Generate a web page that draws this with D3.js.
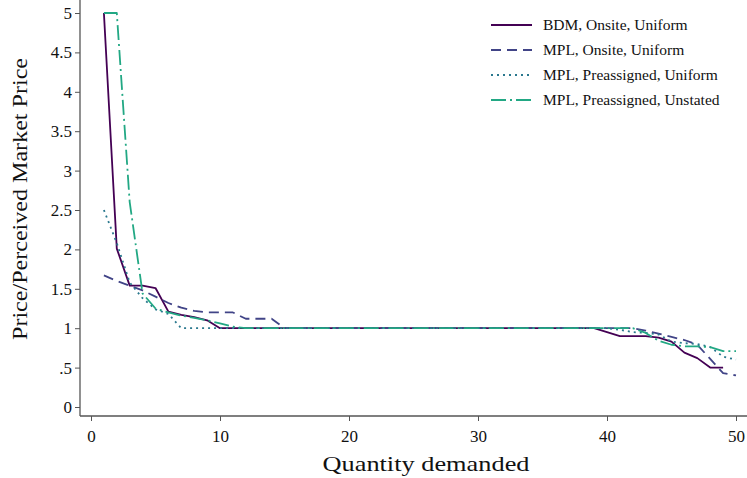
<!DOCTYPE html>
<html><head><meta charset="utf-8">
<script src="https://cdn.jsdelivr.net/npm/d3@7"></script>
<style>body{margin:0;background:#fff}svg{display:block}text{font-family:"Liberation Serif","Times New Roman",serif;fill:#111}</style>
</head><body><svg id="c" width="747" height="478"></svg>
<script>
const quantities = d3.range(1, 51);
const bdmOnsiteUniform = [5,2.01,1.54,1.54,1.51,1.21,1.17,1.14,1.10,1.0,
 1,1,1,1,1,1,1,1,1,1, 1,1,1,1,1,1,1,1,1,1, 1,1,1,1,1,1,1,1,1,
 0.95,0.90,0.90,0.90,0.88,0.83,0.69,0.62,0.50,0.50];
const mplOnsiteUniform = [1.67,1.60,1.54,1.48,1.40,1.32,1.26,1.22,1.20,1.20,
 1.20,1.12,1.12,1.12,1.0, 1,1,1,1,1, 1,1,1,1,1,1,1,1,1,1, 1,1,1,1,1,1,1,1,1,1,
 1.0,1.0,0.97,0.93,0.89,0.85,0.79,0.61,0.43,0.40];
const mplPreUniform = [2.5,2.08,1.58,1.38,1.24,1.18,1.0,1,1,1,
 1,1,1,1,1,1,1,1,1,1, 1,1,1,1,1,1,1,1,1,1, 1,1,1,1,1,1,1,1,1,1,
 0.98,0.95,0.94,0.92,0.83,0.81,0.80,0.76,0.64,0.60];
const mplPreUnstated = [5,5,2.6,1.44,1.25,1.20,1.16,1.13,1.10,1.06,
 1.02,1,1,1,1,1,1,1,1,1, 1,1,1,1,1,1,1,1,1,1, 1,1,1,1,1,1,1,1,1,1,
 1.0,1.0,0.94,0.84,0.79,0.77,0.77,0.76,0.71,0.71];
const seriesNames = ["BDM, Onsite, Uniform","MPL, Onsite, Uniform","MPL, Preassigned, Uniform","MPL, Preassigned, Unstated"];
const xTicks = [0,10,20,30,40,50];
const yTicks = [0,0.5,1,1.5,2,2.5,3,3.5,4,4.5,5];
const yTickLabels = ["0",".5","1","1.5","2","2.5","3","3.5","4","4.5","5"];

const colors = ["#440154","#414487","#2a788e","#22a884"];
const dashes = [null,"10,6","2,4","15,4,2,4"];
const allSeries = [bdmOnsiteUniform, mplOnsiteUniform, mplPreUniform, mplPreUnstated];

const svg = d3.select("#c");
const x = d3.scaleLinear().domain([0,50]).range([91,736]);
const y = d3.scaleLinear().domain([0,5]).range([407,13]);
const axisY = 416, axisX = 80;

svg.append("line").attr("x1",axisX).attr("x2",747).attr("y1",axisY).attr("y2",axisY).attr("stroke","#555").attr("stroke-width",1.3);
svg.append("line").attr("x1",axisX).attr("x2",axisX).attr("y1",0).attr("y2",axisY).attr("stroke","#555").attr("stroke-width",1.3);

const xa = svg.append("g").attr("transform",`translate(0,${axisY})`)
 .call(d3.axisBottom(x).tickValues(xTicks).tickSize(5).tickPadding(9).tickFormat(d3.format("d")));
xa.select(".domain").remove();
xa.selectAll("line").attr("stroke","#555");
xa.selectAll("text").attr("font-size",17).attr("fill","#111").style("font-family","Liberation Serif");

const ya = svg.append("g").attr("transform",`translate(${axisX},0)`)
 .call(d3.axisLeft(y).tickValues(yTicks).tickSize(5).tickPadding(3).tickFormat((d,i)=>yTickLabels[i]));
ya.select(".domain").remove();
ya.selectAll("line").attr("stroke","#555");
ya.selectAll("text").attr("font-size",17).attr("fill","#111").style("font-family","Liberation Serif");

svg.append("text").attr("x",426).attr("y",471).attr("text-anchor","middle").attr("font-size",22)
 .attr("textLength",207).attr("lengthAdjust","spacingAndGlyphs").text("Quantity demanded");
svg.append("text").attr("transform","translate(27,199) rotate(-90)").attr("text-anchor","middle").attr("font-size",22)
 .attr("textLength",282).attr("lengthAdjust","spacingAndGlyphs").text("Price/Perceived Market Price");

const line = d3.line().x((d,i)=>x(quantities[i])).y(d=>y(d));
allSeries.forEach((s,k)=>{
  svg.append("path").datum(s).attr("d",line).attr("fill","none")
   .attr("stroke",colors[k]).attr("stroke-width",1.8)
   .attr("stroke-dasharray",dashes[k]).attr("stroke-linejoin","round");
});

const lg = svg.append("g");
seriesNames.forEach((n,k)=>{
  const yy = 25 + k*25;
  lg.append("line").attr("x1",491).attr("x2",532).attr("y1",yy).attr("y2",yy)
   .attr("stroke",colors[k]).attr("stroke-width",1.8).attr("stroke-dasharray",dashes[k]);
  lg.append("text").attr("x",543).attr("y",yy+5).attr("font-size",15.5).text(n);
});
</script></body></html>
